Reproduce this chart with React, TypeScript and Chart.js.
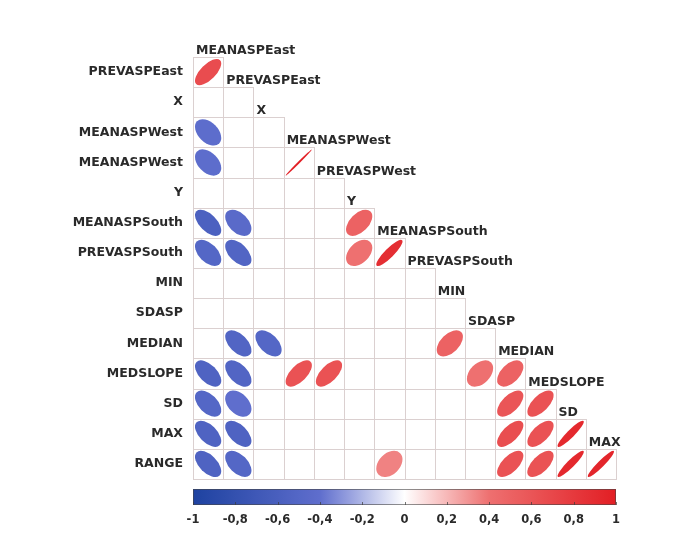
import { useEffect, useRef } from 'react';
import { Chart, registerables } from 'chart.js';

Chart.register(...registerables);

const rowLabels = [
  'PREVASPEast', 'X', 'MEANASPWest', 'MEANASPWest', 'Y', 'MEANASPSouth', 'PREVASPSouth',
  'MIN', 'SDASP', 'MEDIAN', 'MEDSLOPE', 'SD', 'MAX', 'RANGE',
];
const colLabels = [
  'MEANASPEast', 'PREVASPEast', 'X', 'MEANASPWest', 'PREVASPWest', 'Y', 'MEANASPSouth',
  'PREVASPSouth', 'MIN', 'SDASP', 'MEDIAN', 'MEDSLOPE', 'SD', 'MAX',
];

// Non-empty cells of the lower triangle (row index, column index, correlation)
const cellRow = [0, 2, 3, 3, 5, 5, 5, 6, 6, 6, 6, 9, 9, 9, 10, 10, 10, 10, 10, 10, 11, 11, 11, 11, 12, 12, 12, 12, 12, 13, 13, 13, 13, 13, 13, 13];
const cellCol = [0, 0, 0, 3, 0, 1, 5, 0, 1, 5, 6, 1, 2, 8, 0, 1, 3, 4, 9, 10, 0, 1, 10, 11, 0, 1, 10, 11, 12, 0, 1, 6, 10, 11, 12, 13];
const cellValue = [
  0.66,
  -0.42,
  -0.42, 0.995,
  -0.58, -0.45, 0.5,
  -0.5, -0.52, 0.4, 0.88,
  -0.52, -0.5, 0.5,
  -0.55, -0.52, 0.62, 0.62, 0.4, 0.5,
  -0.5, -0.4, 0.6, 0.62,
  -0.55, -0.55, 0.65, 0.62, 0.92,
  -0.55, -0.5, 0.35, 0.62, 0.62, 0.92, 0.94,
];

const colorbarTicks = [-1, -0.8, -0.6, -0.4, -0.2, 0, 0.2, 0.4, 0.6, 0.8, 1];

const colorStops: [number, number[]][] = [
  [-1, [30, 66, 160]],
  [-0.4, [95, 110, 205]],
  [0, [255, 255, 255]],
  [0.4, [238, 112, 112]],
  [1, [226, 30, 36]],
];

function colorFor(v: number): string {
  for (let k = 0; k < colorStops.length - 1; k++) {
    const [v0, c0] = colorStops[k];
    const [v1, c1] = colorStops[k + 1];
    if (v >= v0 && v <= v1) {
      const t = (v - v0) / (v1 - v0);
      const c = c0.map((x, i) => Math.round(x + (c1[i] - x) * t));
      return `rgb(${c[0]},${c[1]},${c[2]})`;
    }
  }
  return v < 0 ? 'rgb(30,66,160)' : 'rgb(226,30,36)';
}

const labelFont = 'bold 12.5px "DejaVu Sans"';

const corrPlugin = {
  id: 'corrPlugin',
  beforeDatasetsDraw(chart: any) {
    const { ctx } = chart;
    const xs = chart.scales.x;
    const ys = chart.scales.y;
    ctx.save();
    ctx.strokeStyle = '#dbd0d0';
    ctx.lineWidth = 1;
    for (let i = 0; i < rowLabels.length; i++) {
      for (let j = 0; j <= i && j < colLabels.length; j++) {
        const x0 = Math.round(xs.getPixelForValue(j - 0.5));
        const x1 = Math.round(xs.getPixelForValue(j + 0.5));
        const y0 = Math.round(ys.getPixelForValue(i - 0.5));
        const y1 = Math.round(ys.getPixelForValue(i + 0.5));
        ctx.strokeRect(x0 + 0.5, y0 + 0.5, x1 - x0, y1 - y0);
      }
    }
    ctx.restore();
  },
  afterDatasetsDraw(chart: any) {
    const { ctx } = chart;
    const xs = chart.scales.x;
    const ys = chart.scales.y;
    const cb = chart.scales.cb;
    const cw = Math.abs(xs.getPixelForValue(1) - xs.getPixelForValue(0));
    const ch = Math.abs(ys.getPixelForValue(1) - ys.getPixelForValue(0));
    const s = (Math.min(cw, ch) * 0.87) / 2;
    const meta = chart.getDatasetMeta(0);
    ctx.save();
    meta.data.forEach((pt: any, k: number) => {
      const v = cellValue[k];
      const r = Math.abs(v);
      const a = s * Math.sqrt(1 + r);
      const b = Math.max(s * Math.sqrt(1 - r), 0.7);
      ctx.beginPath();
      ctx.ellipse(pt.x, pt.y, a, b, v > 0 ? -Math.PI / 4 : Math.PI / 4, 0, Math.PI * 2);
      ctx.fillStyle = colorFor(v);
      ctx.fill();
    });

    // column labels along the diagonal
    ctx.font = labelFont;
    ctx.fillStyle = '#2a2a2a';
    ctx.textAlign = 'left';
    ctx.textBaseline = 'alphabetic';
    colLabels.forEach((lab, j) => {
      const x = xs.getPixelForValue(j - 0.5) + 3;
      const y = ys.getPixelForValue(j - 0.5) - 3;
      ctx.fillText(lab, x, y);
    });

    // colour bar
    const left = cb.getPixelForValue(-1);
    const right = cb.getPixelForValue(1);
    const top = chart.chartArea.bottom + 10;
    const h = 16;
    const grad = ctx.createLinearGradient(left, 0, right, 0);
    for (let k = 0; k <= 40; k++) {
      const v = -1 + (2 * k) / 40;
      grad.addColorStop(k / 40, colorFor(v));
    }
    ctx.fillStyle = grad;
    ctx.fillRect(left, top, right - left, h);
    ctx.strokeStyle = 'rgba(70,70,70,0.6)';
    ctx.lineWidth = 1;
    ctx.strokeRect(left + 0.5, top + 0.5, right - left - 1, h - 1);
    ctx.strokeStyle = 'rgba(60,60,60,0.7)';
    colorbarTicks.forEach((t) => {
      const x = Math.round(cb.getPixelForValue(t)) + 0.5;
      ctx.beginPath();
      ctx.moveTo(x, top + h - 3);
      ctx.lineTo(x, top + h);
      ctx.stroke();
    });
    ctx.restore();
  },
};

function fmt(v: number): string {
  if (Math.abs(v) < 1e-9) return '0';
  if (Number.isInteger(v)) return String(v);
  return v.toFixed(1).replace('.', ',');
}

export default function App() {
  const ref = useRef<HTMLCanvasElement | null>(null);
  useEffect(() => {
    if (!ref.current) return;
    const chart = new Chart(ref.current, {
      type: 'scatter',
      data: {
        datasets: [
          {
            data: cellRow.map((r, k) => ({ x: cellCol[k], y: r })),
            pointRadius: 0,
            pointHoverRadius: 0,
          },
        ],
      },
      options: {
        animation: false,
        responsive: false,
        events: [],
        layout: { padding: { top: 57, right: 72, left: 0, bottom: 0 } },
        plugins: { legend: { display: false }, tooltip: { enabled: false } },
        scales: {
          x: { type: 'linear', min: -0.5, max: 13.5, display: false },
          y: {
            type: 'linear',
            min: -0.5,
            max: 13.5,
            reverse: true,
            afterBuildTicks: (sc: any) => {
              sc.ticks = rowLabels.map((_, i) => ({ value: i }));
            },
            ticks: {
              autoSkip: false,
              padding: 10,
              color: '#2a2a2a',
              font: { family: 'DejaVu Sans', weight: 'bold', size: 12.5 },
              callback: (v: any) => rowLabels[Number(v)] ?? '',
            },
            grid: { display: false, drawTicks: false },
            border: { display: false },
            afterFit: (sc: any) => {
              sc.width = 193;
            },
          },
          cb: {
            type: 'linear',
            axis: 'x',
            position: 'bottom',
            min: -1,
            max: 1,
            afterBuildTicks: (sc: any) => {
              sc.ticks = colorbarTicks.map((v) => ({ value: v }));
            },
            ticks: {
              autoSkip: false,
              maxRotation: 0,
              padding: 34,
              color: '#2a2a2a',
              font: { family: 'DejaVu Sans', weight: 'bold', size: 11.5 },
              callback: (v: any) => fmt(Number(v)),
            },
            grid: { display: false, drawTicks: false },
            border: { display: false },
            afterFit: (sc: any) => {
              sc.height = 60;
            },
          },
        },
      } as any,
      plugins: [corrPlugin],
    });
    return () => chart.destroy();
  }, []);
  return (
    <div style={{ position: 'fixed', left: 0, top: 0, width: 688, height: 539, background: '#fff' }}>
      <canvas ref={ref} width={688} height={539} style={{ display: 'block' }} />
    </div>
  );
}
